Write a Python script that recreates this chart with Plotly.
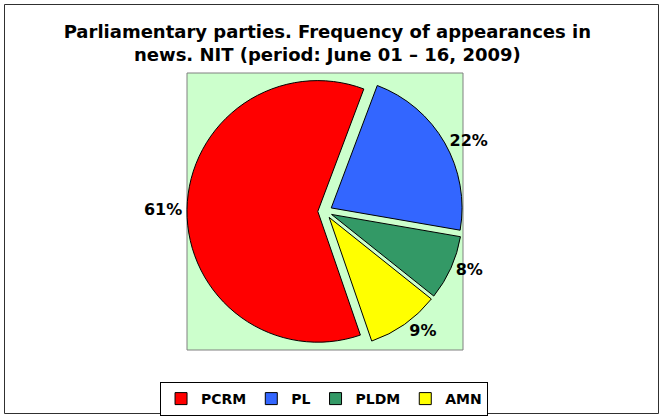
import plotly.graph_objects as go

parties = ["PCRM", "PL", "PLDM", "AMN"]
shares = [61, 22, 8, 9]
colors = ["#FF0000", "#3366FF", "#339966", "#FFFF00"]

W, H = 664, 418
FONT = "DejaVu Sans"

# plot area box (pixels)
px0, px1, py0, py1 = 187, 463, 73, 350

def fx(p):
    return p / W

def fy(p):
    return 1 - p / H

fig = go.Figure()
fig.add_trace(go.Pie(
    labels=parties,
    values=shares,
    sort=False,
    direction="clockwise",
    rotation=161,
    pull=[0.055] * 4,
    marker=dict(colors=colors, line=dict(color="black", width=1)),
    textinfo="percent",
    texttemplate="%{percent:.0%}",
    textposition="outside",
    textfont=dict(family=FONT, size=16, color="black", weight="bold"),
    domain=dict(x=[fx(px0), fx(px1)], y=[fy(py1), fy(py0)]),
    hoverinfo="label+percent",
))

fig.update_layout(
    width=W, height=H,
    margin=dict(l=0, r=0, t=0, b=0),
    paper_bgcolor="white",
    font=dict(family=FONT, color="black"),
    title=dict(
        text="<b>Parliamentary parties. Frequency of appearances in<br>news. NIT (period: June 01 – 16, 2009)</b>",
        x=0.493, xanchor="center",
        y=fy(38), yanchor="top",
        font=dict(family=FONT, size=18, color="black"),
    ),
    legend=dict(
        orientation="h",
        x=0.488, xanchor="center",
        y=fy(382), yanchor="top",
        bordercolor="black", borderwidth=1,
        font=dict(family=FONT, size=14, color="black", weight="bold"),
        itemwidth=30,
        traceorder="normal",
    ),
    shapes=[
        dict(type="rect", xref="paper", yref="paper", layer="below",
             x0=fx(px0), x1=fx(px1), y0=fy(py1), y1=fy(py0),
             fillcolor="#CCFFCC", line=dict(color="#808080", width=1)),
        dict(type="rect", xref="paper", yref="paper", layer="below",
             x0=fx(4.5), x1=fx(658.5), y0=fy(413.5), y1=fy(4.5),
             fillcolor="rgba(0,0,0,0)", line=dict(color="#303030", width=1)),
    ],
)

fig.write_html(
    "out.html",
    config={"displayModeBar": False},
    post_script="document.body.style.margin='0';document.body.style.overflow='hidden';",
)
